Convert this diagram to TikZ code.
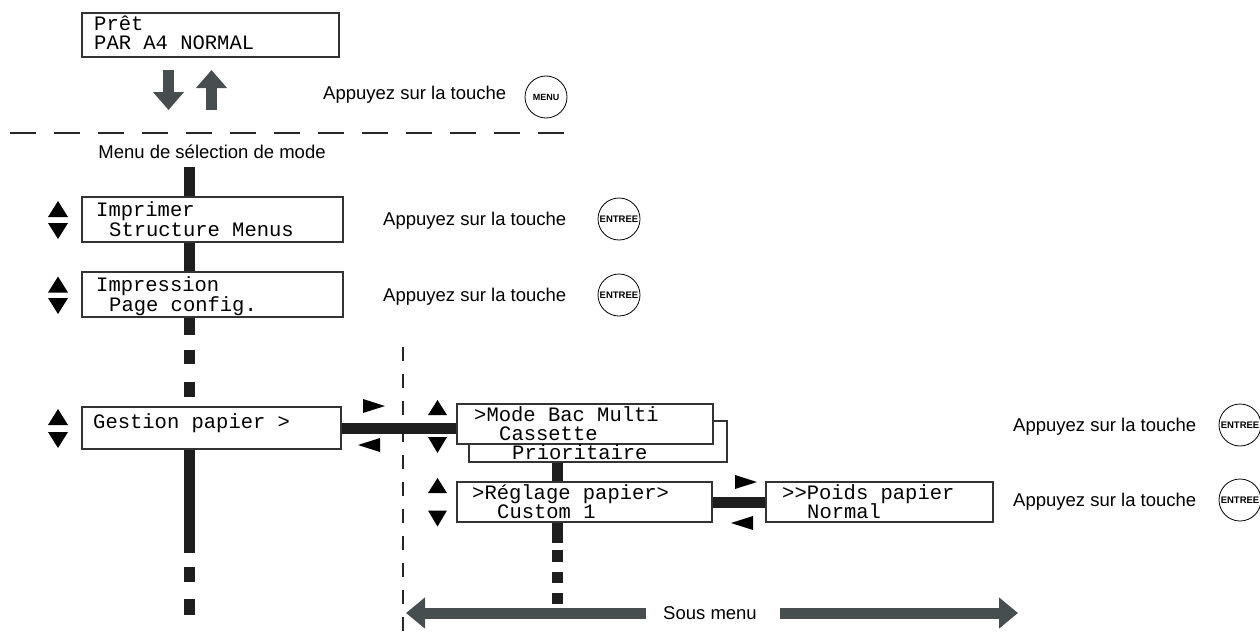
\documentclass[tikz,border=0pt]{standalone}
\usepackage{fontspec}
\setmainfont{Liberation Sans}
\newfontfamily\lcdfont{Liberation Mono}
\usetikzlibrary{arrows.meta}
\definecolor{barcol}{RGB}{30,30,30}
\definecolor{grayarrow}{RGB}{70,78,80}
\begin{document}
\begin{tikzpicture}[x=1pt,y=-1pt,
  lcdbox/.style={draw=black!80, line width=1.1pt, fill=white, inner sep=0},
  lcdtxt/.style={font=\lcdfont\fontsize{20.5}{19}\selectfont, anchor=base west, inner sep=0},
  note/.style={font=\fontsize{18.5}{20}\selectfont, anchor=base west, inner sep=0},
  keybtn/.style={draw, circle, line width=0.8pt, minimum size=42pt, inner sep=0, font=\bfseries\fontsize{9.5}{9.5}\selectfont},
  thickbar/.style={line width=11pt, draw=barcol},
  sq/.style={fill=barcol, draw=none},
  tri/.style={fill=black, draw=none},
  bigarrow/.style={draw=grayarrow, line width=11pt, -{Triangle[length=19pt,width=30pt]}},
  vertarrow/.style={draw=grayarrow, line width=11pt, -{Triangle[length=18pt,width=30pt]}}]
\useasboundingbox (0,0) rectangle (1260,642);

% ---------- top display ----------
\node[lcdbox, minimum width=257pt, minimum height=44pt] (ready) at (210.5,35) {};
\node[lcdtxt] (ready1) at (94,30.5) {Prêt};
\node[lcdtxt] (ready2) at (94,49.5) {PAR A4 NORMAL};

\coordinate (dnS) at (168.5,70);
\coordinate (dnE) at (168.5,110);
\coordinate (upS) at (211.5,110);
\coordinate (upE) at (211.5,70);
\draw[vertarrow] (dnS) -- (dnE);
\draw[vertarrow] (upS) -- (upE);

\node[note] (menuT) at (323,99.5) {Appuyez sur la touche};
\node[keybtn, font=\bfseries\fontsize{9}{9}\selectfont] (menuK) at (546,97) {MENU};

\coordinate (hdL) at (10,133);
\coordinate (hdR) at (566,133);
\draw[black!85, line width=1.5pt, dash pattern=on 26pt off 18pt] (hdL) -- (hdR);

\node[note, anchor=base] (modesel) at (212,158.5) {Menu de sélection de mode};

% ---------- main menu column ----------
\coordinate (spine) at (189.5,167);
\node[lcdbox, minimum width=261pt, minimum height=45pt] (imp) at (212.5,219.5) {};
\node[lcdtxt] (imp1) at (96,216) {Imprimer};
\node[lcdtxt] (imp2) at (109,236) {Structure Menus};

\node[lcdbox, minimum width=261pt, minimum height=45pt] (cfg) at (212.5,294.5) {};
\node[lcdtxt] (cfg1) at (96,291) {Impression};
\node[lcdtxt] (cfg2) at (109,311) {Page config.};

\node[lcdbox, minimum width=259pt, minimum height=42pt] (gest) at (211.5,428) {};
\node[lcdtxt] (gest1) at (93,428) {Gestion papier >};

\draw[thickbar] (spine) -- (spine |- imp.north);
\draw[thickbar] (spine |- imp.south) -- (spine |- cfg.north);
\coordinate (c1) at (189.5,335);
\draw[thickbar] (spine |- cfg.south) -- (c1);
\fill[sq] (184,350) rectangle (195,364);
\fill[sq] (184,382) rectangle (195,397);
\coordinate (c2) at (189.5,553);
\draw[thickbar] (spine |- gest.south) -- (c2);
\fill[sq] (184,567) rectangle (195,582);
\fill[sq] (184,599) rectangle (195,615);

% up/down triangles, left column
\foreach \cy/\dy in {209/231, 284.5/306, 417/440}{
  \fill[tri] (48,\cy+8) -- (68,\cy+8) -- (58,\cy-8) -- cycle;
  \fill[tri] (48,\dy-8) -- (68,\dy-8) -- (58,\dy+8) -- cycle;
}

\node[note] (k1T) at (383,225.5) {Appuyez sur la touche};
\node[keybtn] (k1K) at (619,219) {ENTREE};
\node[note] (k2T) at (383,301) {Appuyez sur la touche};
\node[keybtn] (k2K) at (619,295) {ENTREE};

% ---------- vertical dashed separator ----------
\coordinate (vdT) at (403,347);
\coordinate (vdB) at (403,642);
\draw[black!85, line width=1.5pt, dash pattern=on 14pt off 13pt] (vdT) -- (vdB);

% ---------- sub menu ----------
\node[lcdbox, minimum width=258pt, minimum height=41pt] (modeback) at (598,441.5) {};
\node[lcdbox, minimum width=256pt, minimum height=40pt] (mode) at (585,424) {};
\node[lcdtxt] (mode1) at (474,421.5) {>Mode Bac Multi};
\node[lcdtxt] (mode2) at (499,440.5) {Cassette};
\node[lcdtxt] (mode3) at (512,459.5) {Prioritaire};

\draw[thickbar] (gest.east) -- (gest.east -| mode.west);

\fill[tri] (363,399) -- (363,413) -- (385,406) -- cycle;
\fill[tri] (380,438) -- (380,452) -- (358,445) -- cycle;

\node[lcdbox, minimum width=255pt, minimum height=40pt] (regl) at (584.5,502) {};
\node[lcdtxt] (regl1) at (472,499) {>Réglage papier>};
\node[lcdtxt] (regl2) at (497,518) {Custom 1};

\node[lcdbox, minimum width=227pt, minimum height=40pt] (poids) at (879.5,502) {};
\node[lcdtxt] (poids1) at (782,499) {>>Poids papier};
\node[lcdtxt] (poids2) at (807,518) {Normal};

\coordinate (sub) at (557.5,462);
\draw[thickbar] (sub |- modeback.south) -- (sub |- regl.north);
\coordinate (c3) at (557.5,543);
\draw[thickbar] (sub |- regl.south) -- (c3);
\fill[sq] (552,550) rectangle (563,562);
\fill[sq] (552,572) rectangle (563,583);
\fill[sq] (552,593) rectangle (563,604);

\draw[thickbar] (regl.east) -- (poids.west);
\fill[tri] (735,475) -- (735,489) -- (757,482) -- cycle;
\fill[tri] (753,516) -- (753,530) -- (731,523) -- cycle;

\foreach \cy/\dy in {407.5/445, 485.5/518.5}{
  \fill[tri] (428,\cy+7.5) -- (447,\cy+7.5) -- (437.5,\cy-7.5) -- cycle;
  \fill[tri] (428,\dy-8) -- (447,\dy-8) -- (437.5,\dy+8) -- cycle;
}

\node[note] (k3T) at (1013,431.5) {Appuyez sur la touche};
\node[keybtn] (k3K) at (1240,425) {ENTREE};
\node[note] (k4T) at (1013,506.5) {Appuyez sur la touche};
\node[keybtn] (k4K) at (1240,500) {ENTREE};

% ---------- Sous menu arrow ----------
\node[font=\fontsize{18.5}{20}\selectfont, inner xsep=17pt, inner ysep=0, anchor=base] (sous) at (710,619.5) {Sous menu};
\coordinate (smL) at (406,613);
\coordinate (smR) at (1018,613);
\draw[bigarrow] (sous.west |- smL) -- (smL);
\draw[bigarrow] ([xshift=6pt]sous.east |- smR) -- (smR);
\end{tikzpicture}
\end{document}
